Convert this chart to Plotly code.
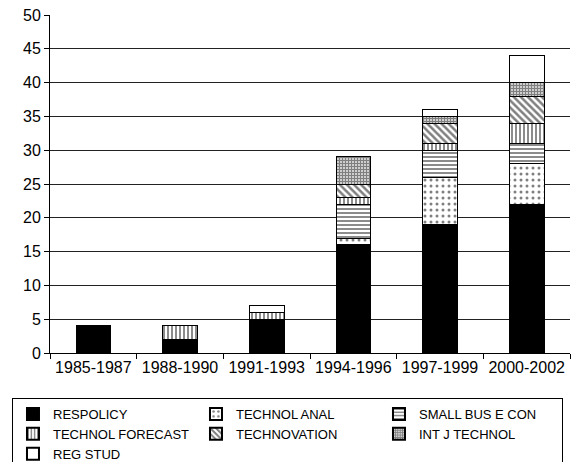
import plotly.graph_objects as go

periods = ["1985-1987", "1988-1990", "1991-1993", "1994-1996", "1997-1999", "2000-2002"]

respolicy = [4, 2, 5, 16, 19, 22]
technol_anal = [0, 0, 0, 1, 7, 6]
small_bus_econ = [0, 0, 0, 5, 4, 3]
technol_forecast = [0, 2, 1, 1, 1, 3]
technovation = [0, 0, 0, 2, 3, 4]
int_j_technol = [0, 0, 0, 4, 1, 2]
reg_stud = [0, 0, 1, 0, 1, 4]

series = [
    ("RESPOLICY", respolicy, dict(color="black")),
    ("TECHNOL ANAL", technol_anal,
     dict(color="white", pattern=dict(shape=".", size=6, solidity=0.2, fgcolor="black", bgcolor="white"))),
    ("SMALL BUS E CON", small_bus_econ,
     dict(color="white", pattern=dict(shape="-", size=4, solidity=0.45, fgcolor="black", bgcolor="white"))),
    ("TECHNOL FORECAST", technol_forecast,
     dict(color="white", pattern=dict(shape="|", size=4, solidity=0.45, fgcolor="black", bgcolor="white"))),
    ("TECHNOVATION", technovation,
     dict(color="white", pattern=dict(shape="\\", size=5, solidity=0.5, fgcolor="black", bgcolor="white"))),
    ("INT J TECHNOL", int_j_technol,
     dict(color="white", pattern=dict(shape="+", size=3, solidity=0.7, fgcolor="black", bgcolor="white"))),
    ("REG STUD", reg_stud, dict(color="white")),
]

fig = go.Figure()
for name, vals, marker in series:
    marker = dict(marker, line=dict(color="black", width=1))
    fig.add_trace(go.Bar(
        x=periods,
        y=[v if v else None for v in vals],
        name=name,
        marker=marker,
    ))

font = "Liberation Sans, Arial, sans-serif"
fig.update_layout(
    width=575,
    height=462,
    barmode="stack",
    bargap=0.6,
    paper_bgcolor="white",
    plot_bgcolor="white",
    margin=dict(l=50, r=5, t=15, b=109, autoexpand=False),
    font=dict(family=font, size=16, color="black"),
    xaxis=dict(
        type="category",
        showline=True,
        linecolor="black",
        linewidth=1,
        ticks="outside",
        tickson="boundaries",
        ticklen=5,
        tickcolor="black",
        showgrid=False,
        tickfont=dict(size=16),
    ),
    yaxis=dict(
        range=[0, 50],
        dtick=5,
        showline=True,
        linecolor="black",
        linewidth=1,
        ticks="outside",
        ticklen=5,
        tickcolor="black",
        showgrid=True,
        gridcolor="#222222",
        gridwidth=1,
        zeroline=False,
        tickfont=dict(size=16),
    ),
    legend=dict(
        orientation="h",
        x=-0.0731,
        xanchor="left",
        y=-0.1331,
        yanchor="top",
        bordercolor="black",
        borderwidth=1,
        bgcolor="white",
        font=dict(family=font, size=13, color="black"),
        entrywidth=138,
        entrywidthmode="pixels",
        traceorder="normal",
        itemsizing="constant",
    ),
    showlegend=True,
)

fig.write_html("out.html")
